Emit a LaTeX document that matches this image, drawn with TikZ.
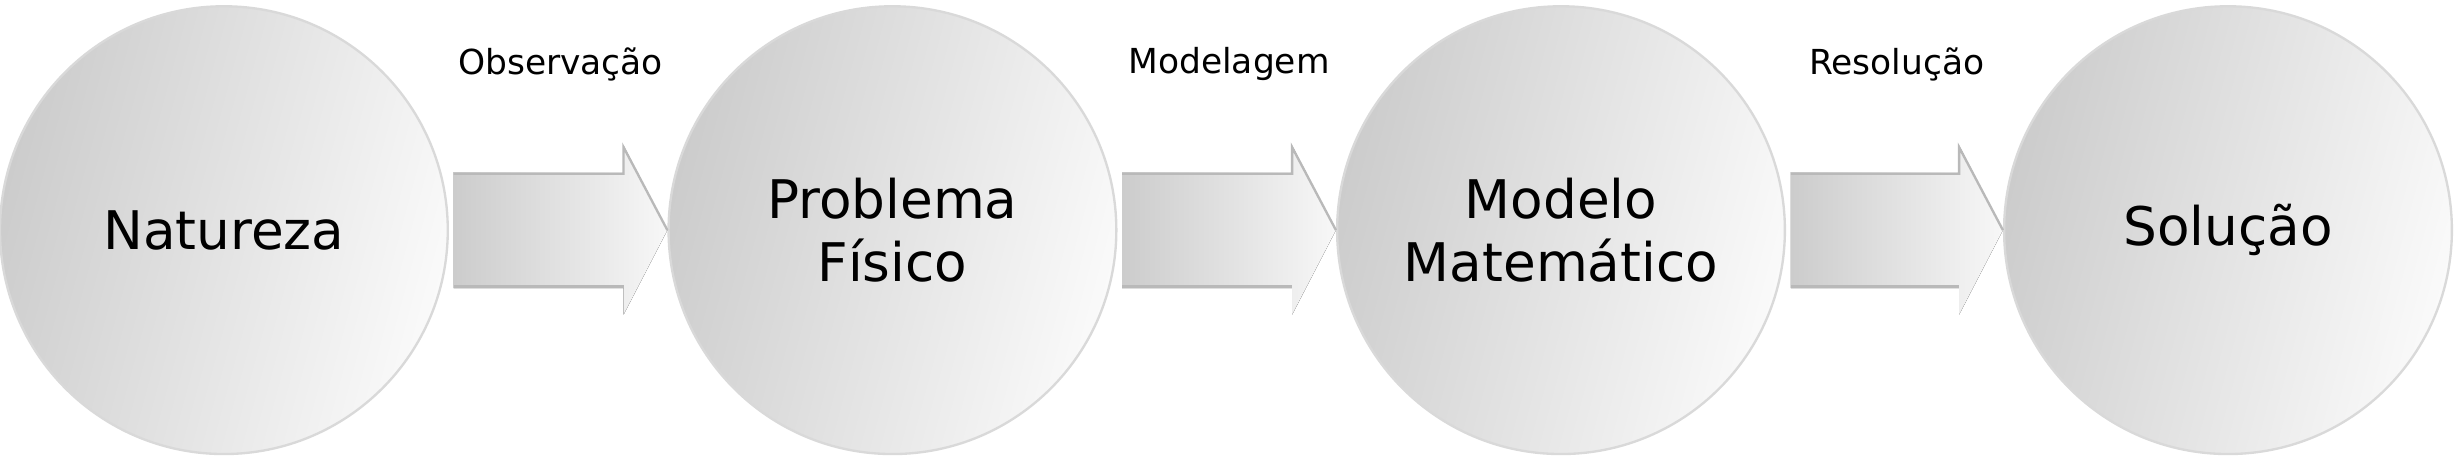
\documentclass[tikz,border=0pt]{standalone}
\usepackage{fontspec}
\setmainfont{DejaVu Sans}
\usetikzlibrary{calc}
\begin{document}
\begin{tikzpicture}[x=1pt,y=-1pt,
  circ/.style={circle,minimum size=286pt,inner sep=0pt,draw=gray!30,line width=1.5pt,
    left color=gray!40,right color=gray!4,shading angle=75,font=\fontsize{34}{40}\selectfont,align=center},
  arr/.style={left color=gray!40,right color=gray!6,draw=none},
  lab/.style={font=\fontsize{22}{26}\selectfont}]
\useasboundingbox (0,0) rectangle (1568,294);
\node[circ] (n1) at (143,147) {Natureza};
\node[circ] (n2) at (570,147) {Problema\\Físico};
\node[circ] (n3) at (997,147) {Modelo\\Matemático};
\node[circ] (n4) at (1423,147) {Solução};
\foreach \a/\b/\t [count=\i] in {n1/n2/Observação,n2/n3/Modelagem,n3/n4/Resolução}{
  \path (\a.east) ++(3,0) coordinate (s\i);
  \path (\b.west) coordinate (e\i);
  \fill[arr] ($(s\i)+(0,-37)$) -- ($(e\i)+(-28,-37)$) -- ($(e\i)+(-28,-54)$) -- (e\i) -- ($(e\i)+(-28,54)$) -- ($(e\i)+(-28,37)$) -- ($(s\i)+(0,37)$) -- cycle;
  \draw[gray!55,line width=1.5pt] ($(s\i)+(0,-36)$) -- ($(e\i)+(-28,-36)$) -- ($(e\i)+(-28,-53)$) -- (e\i);
  \draw[gray!55,line width=1.5pt] ($(s\i)+(0,36)$) -- ($(e\i)+(-28,36)$);
  \node[lab] (l\i) at ($(s\i)!0.5!(e\i)+(0,-106)$) {\t};
}
\end{tikzpicture}
\end{document}
